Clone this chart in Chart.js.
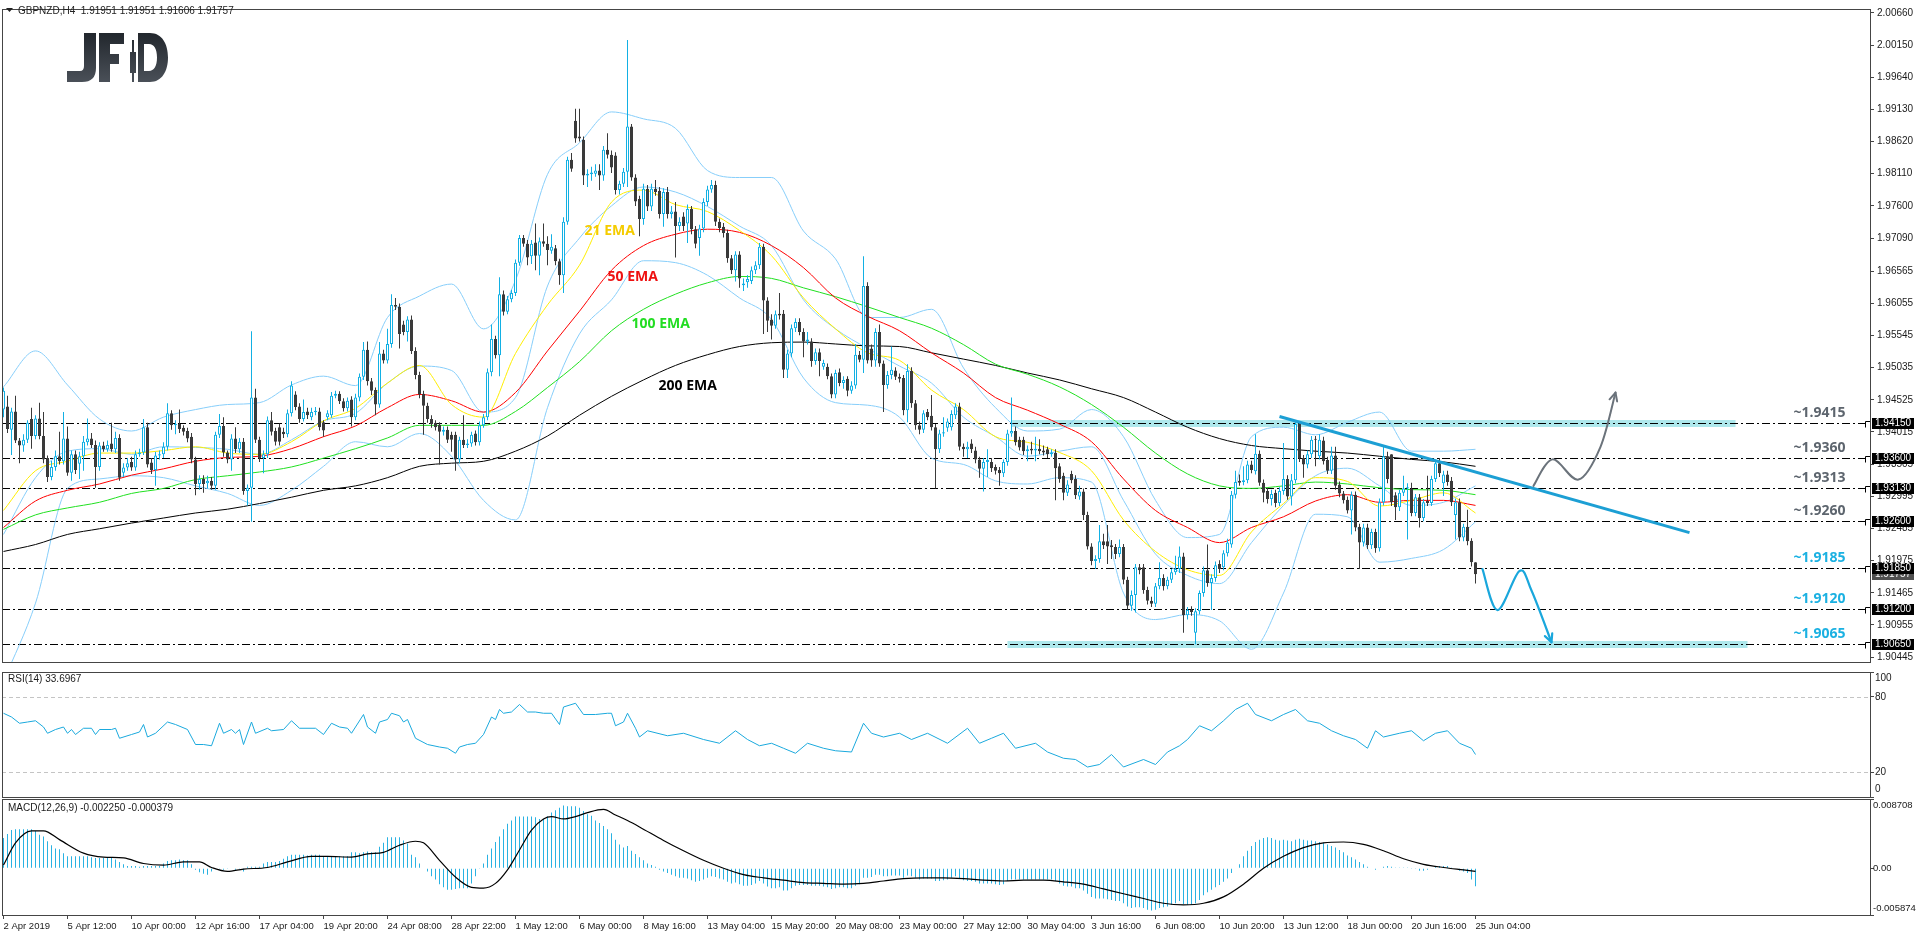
<!DOCTYPE html>
<html>
<head>
<meta charset="utf-8">
<title>GBPNZD H4</title>
<script src="https://cdn.jsdelivr.net/npm/chart.js@4.4.1/dist/chart.umd.min.js"></script>
<style>
  html, body { margin: 0; padding: 0; background: #fff; }
  body { width: 1916px; height: 936px; position: relative; overflow: hidden; }
  canvas { position: absolute; left: 0; }
</style>
</head>
<body>
<canvas id="price" width="1916" height="671" style="top:0"></canvas>
<canvas id="rsi" width="1916" height="128" style="top:671px"></canvas>
<canvas id="macd" width="1916" height="138" style="top:798px"></canvas>
<script>
// candle prices are pips above BASE
const BASE = 1.9
const opens = [
437,442,405,434,388,380,389,422,395,423,
395,360,330,346,363,355,391,337,366,351,
363,385,391,381,346,380,374,383,374,392,
337,345,354,345,366,369,409,353,341,364,
366,378,431,412,414,408,403,394,358,319,
327,320,324,316,397,411,369,358,391,374,
386,308,313,456,389,360,366,420,403,409,
402,398,431,461,442,422,434,425,433,434,
417,425,428,459,462,450,439,453,425,456,
489,532,482,468,445,526,515,541,603,600,
572,560,580,530,492,462,443,422,416,413,
402,405,397,397,358,389,381,383,399,385,
412,425,496,549,523,620,592,612,622,670,
709,700,680,702,681,704,700,689,693,672,
650,735,833,895,870,865,808,810,811,816,
808,849,841,840,785,795,814,886,805,771,
739,787,759,787,784,747,782,747,751,728,
743,732,755,723,709,724,766,786,793,735,
727,717,677,658,683,634,639,641,658,666,
695,610,580,570,589,589,500,526,566,576,
560,545,545,514,528,505,505,490,461,496,
479,486,467,475,524,516,633,534,515,560,
510,476,492,499,489,487,436,498,447,412,
405,433,427,409,374,399,408,409,428,442,
378,374,383,372,358,343,354,354,346,341,
336,354,399,403,389,389,371,375,372,375,
372,374,366,368,347,332,305,335,327,299,
307,270,220,197,200,228,228,222,219,208,
219,167,126,143,187,187,151,134,129,157,
170,157,167,179,184,204,111,119,83,117,
146,182,162,170,192,187,209,223,302,324,
322,325,350,339,367,321,308,295,305,289,
308,327,299,325,414,360,350,366,390,363,
388,357,340,364,318,304,294,277,302,251,
226,250,222,243,217,290,363,366,301,282,
305,312,312,273,298,265,292,289,327,352,
320,334,324,270,290,234,251,229,195]
const closes = [
467,406,434,388,380,389,416,395,423,395,
358,330,346,363,355,391,337,366,341,363,
386,391,381,346,380,374,381,374,392,329,
345,352,345,366,369,409,350,341,364,366,
378,431,412,414,406,402,391,358,319,327,
319,324,316,397,411,369,358,391,374,386,
308,313,456,389,360,366,420,402,386,386,
398,431,475,441,422,433,428,433,435,409,
404,431,459,462,450,439,451,425,456,489,
532,482,467,445,526,515,541,603,600,557,
560,580,530,492,461,443,422,414,409,402,
405,389,389,358,389,381,383,397,385,412,
425,496,549,523,620,592,612,622,670,709,
700,678,700,681,704,700,690,695,672,650,
735,833,819,867,867,808,811,813,816,808,
849,841,821,785,795,814,886,805,767,739,
787,759,787,782,747,782,747,751,728,735,
728,755,723,700,724,766,786,793,735,725,
717,677,658,683,645,637,644,658,666,695,
610,578,570,588,586,500,526,566,576,560,
545,548,514,528,514,511,490,461,495,479,
484,467,475,524,516,633,515,515,560,510,
476,492,500,489,486,436,498,447,412,405,
431,425,409,374,399,401,418,430,442,378,
374,378,374,358,343,354,357,344,340,336,
354,399,403,385,377,371,374,372,375,371,
369,366,369,344,327,305,318,325,301,307,
270,220,197,200,228,222,220,219,208,219,
167,126,143,187,182,151,134,129,157,170,
157,167,179,184,204,111,119,116,117,146,
182,162,170,190,184,209,226,302,322,321,
325,350,341,367,321,305,295,303,289,308,
327,299,325,414,360,350,366,389,389,389,
355,340,364,316,304,293,277,302,250,226,
250,222,243,217,290,363,327,290,282,305,
312,314,273,298,265,290,289,327,352,336,
334,322,290,290,234,251,228,195,176]
const highs = [
472,459,440,459,392,398,420,440,428,448,
433,364,356,372,402,433,410,372,372,370,
395,423,400,388,385,386,388,416,402,398,
352,360,362,372,375,422,416,360,370,372,
385,447,436,420,437,412,408,400,362,333,
333,332,330,402,430,425,372,398,409,392,
392,318,561,470,394,372,426,433,408,415,
408,437,482,466,447,453,440,440,441,440,
420,436,465,467,466,455,456,458,462,494,
544,545,487,472,544,532,565,620,614,605,
578,585,586,536,497,467,448,428,420,417,
410,410,402,402,394,428,390,402,404,418,
430,502,572,554,647,626,617,627,675,714,
714,706,706,732,710,732,712,715,698,676,
742,838,844,914,914,870,818,822,826,826,
855,875,848,845,800,820,1023,890,810,776,
795,793,795,801,790,788,790,760,766,742,
750,762,760,728,730,772,792,801,800,740,
733,722,682,688,688,645,650,664,672,701,
700,615,588,594,622,595,532,572,582,582,
566,560,550,534,534,516,510,494,500,502,
490,490,482,541,530,680,639,540,566,572,
515,498,537,504,494,492,509,504,452,418,
436,438,460,414,405,425,423,436,447,448,
383,386,390,378,362,360,374,360,350,346,
358,405,456,410,394,394,380,386,394,390,
380,378,374,374,352,337,325,340,333,316,
312,275,225,206,254,240,254,230,224,231,
224,172,150,192,192,192,156,140,162,195,
176,172,184,205,220,210,124,125,122,150,
188,223,176,196,198,214,232,308,340,334,
347,356,356,398,372,326,313,310,310,314,
384,333,335,417,417,365,372,395,395,398,
394,362,378,378,323,308,299,307,307,256,
256,256,248,248,296,378,370,366,306,310,
332,320,321,303,303,295,332,332,358,360,
340,340,330,296,296,256,278,233,195]
const lows = [
425,400,365,384,352,370,384,375,390,390,
352,322,325,340,350,350,332,324,335,327,
340,380,376,313,340,370,370,370,368,324,
330,340,340,340,362,365,345,335,316,358,
360,372,405,398,400,396,385,352,301,310,
305,312,310,310,392,362,352,340,368,368,
302,285,259,384,354,336,360,396,380,380,
392,393,426,436,416,418,422,420,428,404,
394,420,424,455,446,434,434,410,420,450,
484,475,460,428,440,510,510,535,595,534,
555,545,525,485,455,397,416,408,404,350,
396,384,370,340,352,376,376,378,380,380,
408,420,490,518,490,586,588,607,617,665,
695,666,668,658,650,695,666,684,666,635,
622,730,814,860,862,793,790,800,806,785,
800,835,812,778,778,790,790,800,760,712,
730,752,752,776,740,727,740,740,678,720,
720,701,715,693,681,718,760,781,728,718,
710,670,652,640,630,625,630,636,652,660,
557,560,548,565,580,487,487,520,560,555,
520,540,505,508,490,500,485,455,455,474,
470,458,462,470,512,495,510,505,505,505,
433,470,485,484,480,428,417,440,405,398,
400,420,404,312,368,394,402,404,422,372,
362,360,368,352,329,307,330,338,334,316,
330,348,394,380,372,365,355,366,355,366,
364,360,362,293,321,293,300,320,295,294,
262,215,190,184,194,216,192,200,200,203,
160,119,118,115,176,145,128,124,124,152,
150,152,162,175,178,83,104,110,65,112,
140,156,119,164,178,182,204,218,296,316,
317,320,336,334,316,290,288,285,282,284,
302,294,285,320,354,329,344,360,347,358,
350,335,335,310,298,288,272,239,244,184,
220,216,216,210,212,285,320,284,262,276,
300,231,268,268,250,260,284,284,322,330,
300,316,284,231,228,228,222,188,161]

// indicator lines, read every 8 bars (pips above BASE)
const lineBars = [0,8,16,24,32,40,48,56,64,72,80,88,96,104,112,120,128,136,144,152,160,168,176,184,192,200,208,216,224,232,240,248,256,264,272,280,288,296,304,312,320,328,336,344,352,360,368]
const ema21 = [277,340,355,368,368,372,378,368,366,386,419,439,479,507,445,425,526,603,666,766,785,762,751,721,681,614,565,527,515,468,437,394,385,369,340,262,212,183,174,243,288,329,323,284,293,305,273]
const ema50 = [250,292,309,319,333,343,355,361,363,375,394,411,440,461,451,433,464,530,593,658,697,715,723,718,697,662,614,585,562,527,495,456,436,414,386,327,277,250,226,250,267,292,302,290,293,293,285]
const ema100 = [247,270,281,290,304,312,326,332,338,346,360,375,392,412,412,412,434,472,513,562,596,620,638,648,645,630,616,600,583,566,540,509,493,473,445,409,368,335,316,312,316,322,319,313,310,309,302]
const ema200 = [212,223,239,248,257,265,273,279,288,298,309,316,329,347,352,355,371,395,428,458,484,507,524,537,543,544,541,538,537,527,517,507,495,484,470,456,433,409,391,380,375,371,368,363,358,354,347]
const bbUpper = [473,530,476,422,403,425,437,445,448,476,490,475,583,617,636,565,642,810,860,909,898,883,816,805,805,720,676,583,583,596,503,440,403,406,437,394,293,234,239,394,409,397,417,433,371,371,374]
const bbMiddle = [239,329,371,375,366,378,377,374,366,389,419,431,479,506,499,433,456,633,709,760,790,782,759,728,697,611,565,534,506,479,425,394,363,371,378,293,208,174,161,226,285,332,344,316,285,290,316]
const bbLower = [6,130,312,327,332,329,316,304,285,309,347,386,378,399,363,293,262,440,557,611,673,670,650,614,580,487,448,444,425,360,350,324,319,329,322,146,104,112,102,57,146,271,267,195,201,215,259]

// RSI(14) [bar, value]
const rsiPoints = [[0,67],[2,64],[4,59],[6,60],[8,61],[10,56],[11,51],[13,54],[15,56],[16,51],[17,54],[18,50],[20,55],[22,55],[23,50],[24,54],[27,54],[28,55],[29,47],[32,50],[34,52],[35,58],[36,48],[38,51],[41,60],[43,58],[46,54],[48,42],[50,42],[52,41],[54,59],[55,51],[57,54],[58,51],[59,54],[60,42],[62,60],[63,51],[66,55],[67,53],[70,54],[72,61],[74,55],[78,55],[80,50],[82,59],[84,56],[86,55],[87,51],[90,66],[91,56],[93,51],[94,60],[96,62],[97,67],[99,65],[100,60],[101,62],[103,47],[106,42],[109,40],[111,39],[113,35],[114,40],[116,42],[118,43],[120,50],[122,64],[123,62],[124,70],[125,67],[127,68],[129,74],[131,68],[133,68],[135,67],[137,67],[139,58],[140,72],[143,75],[145,66],[148,66],[151,67],[152,67],[153,57],[155,60],[156,67],[158,55],[159,48],[161,53],[166,49],[170,51],[175,46],[179,43],[183,53],[186,46],[189,41],[192,43],[195,39],[198,35],[201,43],[205,39],[208,37],[212,36],[215,59],[217,51],[220,48],[224,51],[227,46],[231,51],[236,43],[241,55],[244,43],[247,47],[250,51],[253,39],[258,43],[261,36],[265,31],[268,30],[271,24],[274,26],[277,34],[280,24],[285,30],[288,26],[291,36],[294,41],[296,46],[299,57],[302,53],[305,61],[308,70],[311,75],[313,66],[317,61],[320,66],[323,70],[326,61],[329,59],[332,53],[335,49],[338,46],[341,39],[343,53],[345,48],[349,51],[352,53],[355,45],[358,51],[361,53],[364,43],[367,39],[368,34]]

// MACD(12,26,9) main histogram, units of 0.0001, one per bar
const macdMain = [
38,43,48,49,49,49,49,49,47,42,
40,34,29,25,24,19,15,15,15,15,
15,15,14,13,13,13,13,13,11,8,
5,3,3,3,2,3,3,3,3,3,
6,9,10,10,11,10,10,5,-2,-5,
-7,-8,-4,-1,-1,-2,-1,0,-2,-1,
-4,2,2,2,2,6,8,8,8,9,
12,15,17,17,17,17,16,17,17,17,
15,15,15,15,15,15,15,20,20,19,
20,21,20,20,27,32,39,39,39,39,
35,31,17,14,6,0,-4,-10,-14,-20,
-24,-27,-27,-26,-25,-25,-25,-19,-10,-1,
6,17,25,33,40,49,56,60,65,65,
65,65,65,64,62,62,65,70,73,76,
79,78,78,78,76,72,68,66,60,57,
53,49,44,36,30,26,28,22,18,14,
10,6,4,2,-2,-4,-6,-8,-10,-12,
-12,-13,-15,-17,-16,-14,-12,-10,-11,-13,
-14,-17,-19,-18,-20,-22,-22,-21,-19,-16,
-19,-23,-25,-25,-24,-28,-28,-25,-22,-21,
-21,-21,-22,-22,-22,-23,-24,-26,-25,-24,
-24,-25,-25,-22,-20,-12,-12,-11,-8,-8,
-10,-10,-9,-9,-9,-12,-9,-10,-12,-14,
-13,-13,-13,-16,-16,-15,-14,-12,-10,-13,
-15,-16,-16,-17,-19,-19,-19,-19,-20,-21,
-20,-16,-14,-14,-14,-14,-14,-14,-14,-14,
-14,-14,-14,-16,-19,-22,-23,-23,-25,-25,
-28,-32,-36,-38,-38,-38,-39,-40,-41,-41,
-44,-48,-50,-49,-49,-50,-52,-53,-52,-50,
-49,-48,-46,-44,-41,-45,-46,-46,-44,-40,
-34,-30,-27,-24,-21,-17,-13,-6,0,5,
15,22,28,33,36,38,39,38,36,35,
36,35,34,36,37,36,35,35,34,33,
32,30,28,26,23,20,16,14,11,8,
5,2,0,-2,0,2,3,2,1,1,
1,1,-1,-1,-3,-3,-2,0,2,3,
3,3,1,0,-3,-4,-6,-14,-22.5]
// signal line [bar, value in 0.0001]
const macdSignal = [[0,4],[3,32],[7,47],[10,47],[14,36],[20,19],[25,14],[30,13],[35,6],[40,4],[45,8],[49,8],[52,1],[56,-4],[60,-1],[66,1],[71,8],[77,15],[81,15],[87,14],[91,18],[95,20],[99,29],[103,34],[105,32],[109,10],[113,-11],[117,-24],[120,-25],[123,-19],[126,-2],[129,23],[132,48],[135,62],[137,65],[140,62],[143,65],[146,70],[150,74],[153,67],[156,60],[159,52],[165,35],[170,22],[175,10],[180,0],[185,-8],[190,-12],[195,-15],[200,-18],[205,-19],[210,-20],[215,-19],[220,-16],[225,-13],[230,-12],[235,-12],[240,-13],[245,-15],[250,-16],[255,-15],[260,-15],[265,-17],[270,-20],[275,-26],[280,-32],[285,-38],[290,-44],[295,-46],[300,-44],[305,-36],[310,-20],[315,0],[320,15],[325,26],[330,32],[335,33],[340,30],[345,22],[350,12],[355,5],[360,1],[365,-2],[368,-3.8]]

const timeBars = [0,16,32,48,64,80,96,112,128,144,160,176,192,208,224,240,256,272,288,304,320,336,352,368]
const timeLabels = ['2 Apr 2019','5 Apr 12:00','10 Apr 00:00','12 Apr 16:00','17 Apr 04:00','19 Apr 20:00','24 Apr 08:00','28 Apr 22:00','1 May 12:00','6 May 00:00','8 May 16:00','13 May 04:00','15 May 20:00','20 May 08:00','23 May 00:00','27 May 12:00','30 May 04:00','3 Jun 16:00','6 Jun 08:00','10 Jun 20:00','13 Jun 12:00','18 Jun 00:00','20 Jun 16:00','25 Jun 04:00']
const priceTicks = [2.0066,2.0015,1.9964,1.9913,1.9862,1.9811,1.976,1.9709,1.96565,1.96055,1.95545,1.95035,1.94525,1.94015,1.93505,1.92995,1.92485,1.91975,1.91465,1.90955,1.90445]

// annotations
const levels = [1.9415, 1.936, 1.9313, 1.926, 1.9185, 1.912, 1.9065]
const levelText = ['~1.9415','~1.9360','~1.9313','~1.9260','~1.9185','~1.9120','~1.9065']
const levelColors = ['#5d656e','#5d656e','#5d656e','#5d656e','#1bb1e2','#1bb1e2','#1bb1e2']
const zoneLevels = [1.9415, 1.9065]
const zoneFrom = [252, 251]
const zoneTo = [433, 436]
const trendBars = [319, 421.5]
const trendPrices = [1.9426, 1.92418]
const upArrow = [[382.5,1.9316],[387.25,1.9358],[393.75,1.9326],[399.25,1.9378],[403,1.9464]]
const downArrow = [[369.75,1.9184],[373.5,1.9119],[379,1.9181],[382,1.9150],[387,1.9068]]
const emaNames = ['21 EMA','50 EMA','100 EMA','200 EMA']
const emaColors = ['#f5cc00','#ee1111','#22dd22','#000000']
const emaLabelAt = [[145.25,1.97198],[151,1.9647],[157,1.9572],[163.75,1.94746]]
const lastPrice = 1.91757

const X_MIN = -0.375, X_MAX = 466.625
const Y_MIN = 1.90367, Y_MAX = 2.00722
const UP = '#12b0e4', DOWN = '#3a3a3a'
const FONT = '"Liberation Sans", Arial, sans-serif'
const BOLD = '"Open Sans", "DejaVu Sans", sans-serif'

const px = v => BASE + v / 10000
const idx = opens.map((_, i) => i)
const bull = idx.map(i => closes[i] >= opens[i])

function pts(arr) { return lineBars.map((b, k) => ({x: b, y: px(arr[k])})) }
function lineSet(arr, color, order) {
  return {type: 'line', data: pts(arr), borderColor: color, borderWidth: 1, pointRadius: 0,
    cubicInterpolationMode: 'monotone', order: order}
}

function frame(chart) {
  const {ctx, chartArea: a} = chart
  ctx.save()
  ctx.strokeStyle = '#454545'
  ctx.lineWidth = 1
  ctx.strokeRect(a.left + 0.5, a.top + 0.5, a.right - a.left, a.bottom - a.top)
  ctx.restore()
}

function smoothArrow(ctx, p, color, width) {
  ctx.strokeStyle = color
  ctx.fillStyle = color
  ctx.lineWidth = width
  ctx.lineCap = 'round'
  ctx.lineJoin = 'round'
  ctx.beginPath()
  ctx.moveTo(p[0][0], p[0][1])
  for (let i = 0; i < p.length - 1; i++) {
    const p0 = p[i - 1] || p[i], p1 = p[i], p2 = p[i + 1], p3 = p[i + 2] || p2
    ctx.bezierCurveTo(p1[0] + (p2[0] - p0[0]) / 6, p1[1] + (p2[1] - p0[1]) / 6,
      p2[0] - (p3[0] - p1[0]) / 6, p2[1] - (p3[1] - p1[1]) / 6, p2[0], p2[1])
  }
  ctx.stroke()
  const [tx, ty] = p[p.length - 1], [sx, sy] = p[p.length - 2]
  const ang = Math.atan2(ty - sy, tx - sx)
  ctx.beginPath()
  ctx.moveTo(tx - 9 * Math.cos(ang - 0.45), ty - 9 * Math.sin(ang - 0.45))
  ctx.lineTo(tx, ty)
  ctx.lineTo(tx - 9 * Math.cos(ang + 0.45), ty - 9 * Math.sin(ang + 0.45))
  ctx.stroke()
}

const priceDecor = {
  id: 'priceDecor',
  beforeDatasetsDraw(chart) {
    const {ctx, chartArea: a, scales: {x, y}} = chart
    ctx.save()
    ctx.beginPath()
    ctx.rect(a.left, a.top, a.right - a.left, a.bottom - a.top)
    ctx.clip()
    ctx.fillStyle = '#aee8ec'
    zoneLevels.forEach((lv, k) => {
      const yy = y.getPixelForValue(lv)
      const x0 = x.getPixelForValue(zoneFrom[k]), x1 = x.getPixelForValue(zoneTo[k])
      ctx.fillRect(x0, Math.round(yy) - 3, x1 - x0, 7)
    })
    ctx.strokeStyle = '#000'
    ctx.lineWidth = 1
    ctx.setLineDash([8, 3, 2, 3])
    levels.forEach(lv => {
      const yy = Math.round(y.getPixelForValue(lv)) + 0.5
      ctx.beginPath()
      ctx.moveTo(a.left, yy)
      ctx.lineTo(a.right - 5, yy)
      ctx.stroke()
    })
    ctx.setLineDash([])
    levels.forEach(lv => {
      const yy = Math.round(y.getPixelForValue(lv)) - 1.5
      ctx.beginPath()
      ctx.moveTo(a.right - 4.5, yy + 6)
      ctx.lineTo(a.right - 4.5, yy)
      ctx.lineTo(a.right, yy)
      ctx.stroke()
    })
    ctx.restore()
  },
  afterDatasetsDraw(chart) {
    const {ctx, chartArea: a, scales: {x, y}} = chart
    ctx.save()
    ctx.beginPath()
    ctx.rect(a.left, a.top, a.right - a.left, a.bottom - a.top)
    ctx.clip()
    smoothArrow(ctx, upArrow.map(p => [x.getPixelForValue(p[0]), y.getPixelForValue(p[1])]), '#6b737b', 2)
    smoothArrow(ctx, downArrow.map(p => [x.getPixelForValue(p[0]), y.getPixelForValue(p[1])]), '#1aa7dc', 2.2)
    // level captions
    ctx.font = 'bold 14px ' + BOLD
    ctx.textAlign = 'right'
    ctx.textBaseline = 'middle'
    levels.forEach((lv, k) => {
      ctx.fillStyle = levelColors[k]
      ctx.fillText(levelText[k], x.getPixelForValue(460.5), y.getPixelForValue(lv) - 10)
    })
    // EMA captions
    ctx.textAlign = 'left'
    emaNames.forEach((n, k) => {
      ctx.fillStyle = emaColors[k]
      ctx.fillText(n, x.getPixelForValue(emaLabelAt[k][0]), y.getPixelForValue(emaLabelAt[k][1]))
    })
    ctx.restore()
  },
  afterDraw(chart) {
    const {ctx, chartArea: a, scales: {y}} = chart
    frame(chart)
    ctx.save()
    // price boxes on the axis
    ctx.font = '10px ' + FONT
    ctx.textAlign = 'left'
    ctx.textBaseline = 'middle'
    const ly = Math.round(y.getPixelForValue(lastPrice))
    ctx.fillStyle = '#505050'
    ctx.fillRect(a.right + 2, ly - 5, 42, 11)
    ctx.fillStyle = '#fff'
    ctx.fillText(lastPrice.toFixed(5), a.right + 5, ly + 0.5)
    levels.forEach(lv => {
      const yy = Math.round(y.getPixelForValue(lv))
      ctx.fillStyle = '#000'
      ctx.fillRect(a.right + 2, yy - 5, 42, 11)
      ctx.fillStyle = '#fff'
      ctx.fillText(lv.toFixed(5), a.right + 5, yy + 0.5)
    })
    // title
    ctx.fillStyle = '#222'
    ctx.beginPath()
    ctx.moveTo(6, 8); ctx.lineTo(13, 8); ctx.lineTo(9.5, 12); ctx.closePath()
    ctx.fill()
    ctx.fillText('GBPNZD,H4  1.91951 1.91951 1.91606 1.91757', 18, 11)
    // logo
    const g = ctx.createLinearGradient(0, 33, 0, 82)
    g.addColorStop(0, '#22272d')
    g.addColorStop(1, '#4a5058')
    ctx.fillStyle = g
    ctx.beginPath()
    ctx.moveTo(84, 33); ctx.lineTo(96, 33); ctx.lineTo(96, 68)
    ctx.quadraticCurveTo(96, 82, 82, 82); ctx.lineTo(67, 82); ctx.lineTo(67, 71)
    ctx.lineTo(80, 71); ctx.quadraticCurveTo(84, 71, 84, 66); ctx.closePath()
    ctx.fill()
    ctx.fillRect(99, 33, 11, 49)
    ctx.fillRect(99, 33, 25, 11)
    ctx.fillRect(99, 54, 20, 10)
    ctx.fillRect(132, 40, 2, 42)
    ctx.fillRect(130, 52, 6, 21)
    ctx.beginPath()
    ctx.moveTo(138, 33); ctx.lineTo(150, 33)
    ctx.bezierCurveTo(162, 33, 168, 44, 168, 57.5)
    ctx.bezierCurveTo(168, 71, 162, 82, 150, 82)
    ctx.lineTo(138, 82); ctx.closePath()
    ctx.moveTo(144, 44); ctx.lineTo(144, 71); ctx.lineTo(149, 71)
    ctx.bezierCurveTo(154, 71, 157, 66, 157, 57.5)
    ctx.bezierCurveTo(157, 49, 154, 44, 149, 44); ctx.closePath()
    ctx.fill('evenodd')
    ctx.restore()
  }
}

const fitRight = s => { s.width = 46 }
const commonOpts = {
  responsive: false,
  animation: false,
  devicePixelRatio: 1,
  events: [],
  plugins: {legend: {display: false}, tooltip: {enabled: false}}
}

new Chart(document.getElementById('price'), {
  type: 'bar',
  data: {
    datasets: [
      {data: [{x: trendBars[0], y: trendPrices[0]}, {x: trendBars[1], y: trendPrices[1]}], type: 'line',
        borderColor: '#1c9fd4', borderWidth: 3, pointRadius: 0, order: -1},
      {data: idx.map(i => ({x: i, y: [px(opens[i]), px(closes[i])]})),
        backgroundColor: bull.map(b => b ? '#ffffff' : DOWN), borderColor: bull.map(b => b ? UP : DOWN),
        borderWidth: 1, borderSkipped: false, barThickness: 3, minBarLength: 1, grouped: false, inflateAmount: 0, order: 0},
      {data: idx.map(i => ({x: i, y: [px(lows[i]), px(highs[i])]})),
        backgroundColor: bull.map(b => b ? UP : DOWN), barThickness: 1, grouped: false, inflateAmount: 0, order: 1},
      lineSet(ema21, '#ffee00', 2),
      lineSet(ema50, '#ff0000', 3),
      lineSet(ema100, '#20e020', 4),
      lineSet(ema200, '#000000', 5),
      lineSet(bbUpper, '#87cefa', 6),
      lineSet(bbMiddle, '#87cefa', 6),
      lineSet(bbLower, '#87cefa', 6)
    ]
  },
  options: {
    ...commonOpts,
    layout: {padding: {left: 2, right: 0, top: 3, bottom: 1}},
    scales: {
      x: {type: 'linear', min: X_MIN, max: X_MAX, display: false, offset: false, grid: {offset: false}},
      y: {position: 'right', min: Y_MIN, max: Y_MAX, afterFit: fitRight,
        afterBuildTicks: s => { s.ticks = priceTicks.map(v => ({value: v})) },
        ticks: {autoSkip: false, padding: 3, color: '#1a1a1a', font: {family: FONT, size: 10},
          callback: v => v.toFixed(5)},
        grid: {drawOnChartArea: false, tickLength: 4, color: '#454545'},
        border: {display: false}}
    }
  },
  plugins: [priceDecor]
})

const rsiDecor = {
  id: 'rsiDecor',
  beforeDatasetsDraw(chart) {
    const {ctx, chartArea: a, scales: {y}} = chart
    ctx.save()
    ctx.strokeStyle = '#c4c4c4'
    ctx.setLineDash([4, 3])
    ;[80, 20].forEach(v => {
      const yy = Math.round(y.getPixelForValue(v)) + 0.5
      ctx.beginPath(); ctx.moveTo(a.left, yy); ctx.lineTo(a.right, yy); ctx.stroke()
    })
    ctx.restore()
  },
  afterDraw(chart) {
    const {ctx, chartArea: a, scales: {y}} = chart
    frame(chart)
    ctx.save()
    ctx.font = '10px ' + FONT
    ctx.fillStyle = '#1a1a1a'
    ctx.textBaseline = 'middle'
    ;[100, 80, 20, 0].forEach(v => {
      const yy = Math.min(Math.max(y.getPixelForValue(v), a.top + 6), a.bottom - 8)
      ctx.fillText(String(v), a.right + 5, yy)
    })
    ctx.fillText('RSI(14) 33.6967', 8, 8)
    ctx.restore()
  }
}

new Chart(document.getElementById('rsi'), {
  type: 'line',
  data: {datasets: [{data: rsiPoints.map(p => ({x: p[0], y: p[1]})), borderColor: '#1aa9dd', borderWidth: 1, pointRadius: 0}]},
  options: {
    ...commonOpts,
    layout: {padding: {left: 2, right: 0, top: 1, bottom: 2}},
    scales: {
      x: {type: 'linear', min: X_MIN, max: X_MAX, display: false},
      y: {position: 'right', min: 0, max: 100, afterFit: fitRight,
        afterBuildTicks: s => { s.ticks = [0, 20, 80, 100].map(v => ({value: v})) },
        ticks: {display: false},
        grid: {drawOnChartArea: false, tickLength: 4, color: '#454545'},
        border: {display: false}}
    }
  },
  plugins: [rsiDecor]
})

const macdDecor = {
  id: 'macdDecor',
  afterDraw(chart) {
    const {ctx, chartArea: a, scales: {y}} = chart
    frame(chart)
    ctx.save()
    ctx.font = '9.5px ' + FONT
    ctx.fillStyle = '#1a1a1a'
    ctx.textBaseline = 'middle'
    const top = y.max, bottom = y.min
    ;[[top, top.toFixed(6)], [0, '0.00'], [bottom, bottom.toFixed(6)]].forEach(([v, t]) => {
      const yy = Math.min(Math.max(y.getPixelForValue(v), a.top + 6), a.bottom - 7)
      ctx.fillText(t, a.right + 3, yy)
    })
    ctx.font = '10px ' + FONT
    ctx.fillText('MACD(12,26,9) -0.002250 -0.000379', 8, 10)
    ctx.restore()
  }
}

new Chart(document.getElementById('macd'), {
  type: 'bar',
  data: {
    datasets: [
      {type: 'line', data: macdSignal.map(p => ({x: p[0], y: p[1] / 10000})), borderColor: '#000', borderWidth: 1.2,
        pointRadius: 0, cubicInterpolationMode: 'monotone', order: 0},
      {data: macdMain.map((v, i) => ({x: i, y: v / 10000})), backgroundColor: '#2ab2e2', barThickness: 1,
        grouped: false, inflateAmount: 0, order: 1}
    ]
  },
  options: {
    ...commonOpts,
    layout: {padding: {left: 2, right: 0, top: 1, bottom: 0}},
    scales: {
      x: {type: 'linear', min: X_MIN, max: X_MAX, offset: false, afterFit: s => { s.height = 21 },
        afterBuildTicks: s => { s.ticks = timeBars.map(v => ({value: v})) },
        ticks: {autoSkip: false, maxRotation: 0, minRotation: 0, align: 'start', padding: 2,
          color: '#1a1a1a', font: {family: FONT, size: 9.5}, callback: (v, i) => timeLabels[i]},
        grid: {drawOnChartArea: false, tickLength: 4, color: '#454545', offset: false},
        border: {display: false}},
      y: {position: 'right', min: -0.005874, max: 0.008708, afterFit: fitRight,
        afterBuildTicks: s => { s.ticks = [-0.005874, 0, 0.008708].map(v => ({value: v})) },
        ticks: {display: false},
        grid: {drawOnChartArea: false, tickLength: 4, color: '#454545'},
        border: {display: false}}
    }
  },
  plugins: [macdDecor]
})
</script>
</body>
</html>
